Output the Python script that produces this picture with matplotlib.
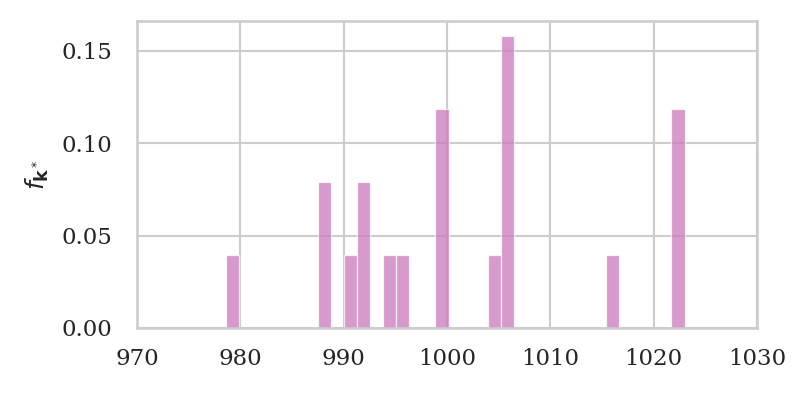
import numpy as np
import matplotlib
matplotlib.use("Agg")
import matplotlib.pyplot as plt
import seaborn as sns

# histogram: bin centres and density heights
bin_centers = [979.24, 988.15, 990.65, 991.92, 994.45, 995.72,
               999.52, 1004.60, 1005.87, 1016.01, 1022.35]
densities = [0.0394, 0.0789, 0.0394, 0.0789, 0.0394, 0.0394,
             0.1183, 0.0394, 0.1577, 0.0394, 0.1183]
bin_width = 1.268
x_ticks = [970, 980, 990, 1000, 1010, 1020, 1030]
y_ticks = [0.00, 0.05, 0.10, 0.15]

sns.set_theme(style="whitegrid", font="serif")
bar_color = sns.color_palette("colorblind")[4]

fig = plt.figure(figsize=(808 / 150, 394 / 150), dpi=150)
ax = fig.add_axes([137 / 808, 1 - 328 / 394, (757 - 137) / 808, (328 - 21) / 394])

ax.bar(bin_centers, densities, width=bin_width, color=bar_color, alpha=0.75,
       edgecolor="white", linewidth=0.6)

ax.set_xlim(970, 1030)
ax.set_ylim(0, 0.166)
ax.set_xticks(x_ticks)
ax.set_yticks(y_ticks)
ax.set_yticklabels([f"{v:.2f}" for v in y_ticks])
ax.tick_params(axis="y", pad=6)
ax.set_ylabel(r"$f_{\mathbf{k}^*}$", fontsize=12, labelpad=5)
ax.set_axisbelow(True)

fig.savefig("out.png", dpi=150)
